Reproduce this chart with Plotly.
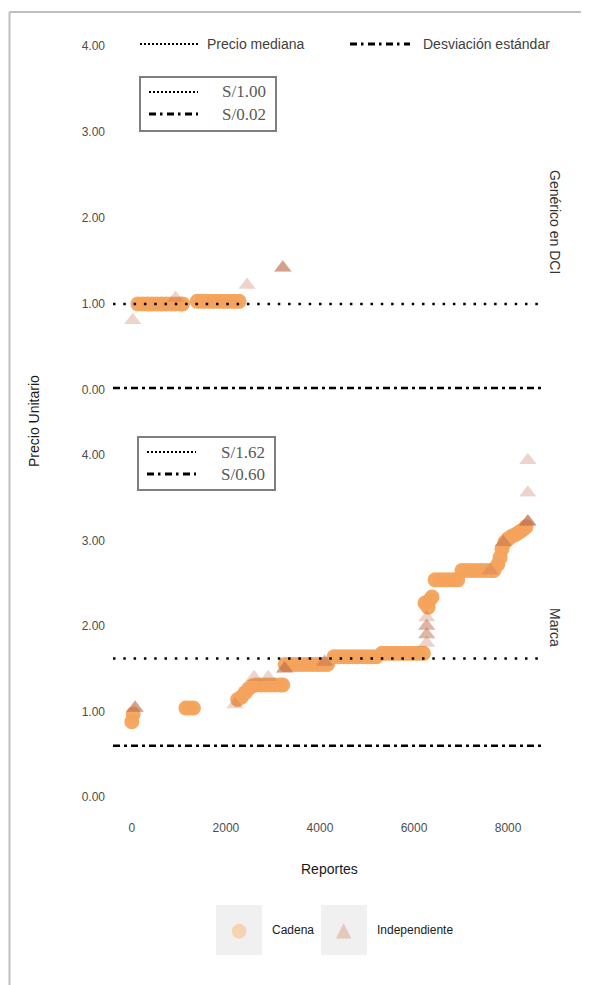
import plotly.graph_objects as go
from plotly.subplots import make_subplots

W, H = 589, 985
OFF = 8  # the page body margin shifts the figure by 8 px

# --- data: Genérico en DCI ---
gen_cadena_x = [130, 230, 330, 430, 530, 630, 730, 830, 930, 1030, 1080,
                1390, 1490, 1590, 1690, 1790, 1890, 1990, 2090, 2190, 2280]
gen_cadena_y = [1.00, 1.00, 1.00, 1.00, 1.00, 1.00, 1.00, 1.00, 1.00, 1.00, 1.00,
                1.03, 1.03, 1.03, 1.03, 1.03, 1.03, 1.03, 1.03, 1.03, 1.03]
gen_indep_x = [20, 930, 2450, 3210, 3210, 3210]
gen_indep_y = [0.81, 1.07, 1.22, 1.42, 1.42, 1.42]

# --- data: Marca ---
marca_cadena_x = [0, 30, 1150, 1230, 1310,
                  2250, 2330, 2410, 2490, 2570, 2650, 2750, 2850, 2950, 3050, 3150, 3210,
                  3260, 3360, 3460, 3560, 3660, 3760, 3860, 3960, 4060, 4160,
                  4300, 4400, 4500, 4600, 4700, 4800, 4900, 5000, 5100, 5200,
                  5320, 5420, 5520, 5620, 5720, 5820, 5920, 6020, 6120, 6200,
                  6234, 6300, 6330, 6383,
                  6450, 6550, 6650, 6750, 6850, 6930,
                  7020, 7120, 7220, 7320, 7420, 7520, 7620, 7700,
                  7780, 7830, 7870, 7930, 8000, 8080, 8160, 8240, 8320, 8380]
marca_cadena_y = [0.88, 0.97, 1.04, 1.04, 1.04,
                  1.14, 1.17, 1.22, 1.27, 1.30, 1.31, 1.31, 1.31, 1.31, 1.31, 1.31, 1.31,
                  1.55, 1.55, 1.55, 1.55, 1.55, 1.55, 1.55, 1.55, 1.55, 1.55,
                  1.64, 1.64, 1.64, 1.64, 1.64, 1.64, 1.64, 1.64, 1.64, 1.64,
                  1.68, 1.68, 1.68, 1.68, 1.68, 1.68, 1.68, 1.68, 1.68, 1.68,
                  2.27, 2.22, 2.30, 2.34,
                  2.54, 2.54, 2.54, 2.54, 2.54, 2.54,
                  2.65, 2.65, 2.65, 2.65, 2.65, 2.65, 2.65, 2.65,
                  2.72, 2.80, 2.90, 2.98, 3.02, 3.05, 3.07, 3.10, 3.13, 3.16]
marca_indep_x = [70, 70, 70, 2190, 2600, 2900, 3250, 3250, 3250, 4100, 4100,
                 6270, 6270, 6270, 6270, 6270, 6270, 7620, 7900, 7900,
                 8420, 8420, 8420, 8420, 8420, 8420]
marca_indep_y = [1.04, 1.04, 1.04, 1.08, 1.40, 1.40, 1.50, 1.50, 1.50, 1.58, 1.58,
                 1.80, 1.90, 1.90, 2.00, 2.00, 2.10, 2.65, 2.98, 2.98,
                 3.94, 3.56, 3.22, 3.22, 3.22, 3.22]

panels = ["Genérico en DCI", "Marca"]
medians = [1.00, 1.62]
std_devs = [0.02, 0.60]

x_ticks = [0, 2000, 4000, 6000, 8000]
y_ticks = [0, 1, 2, 3, 4]

CADENA = "#F4A35C"
INDEP = "#C07050"
TEXT = "#4D4D4D"
DOT = "2.5px,7.8px"
DASHDOT = "7px,4px,3px,4px"
KEY_DOT = "2px,2px"
KEY_DASHDOT = "7px,4px,2.5px,4.5px"
FONT = "Liberation Sans, Arial, sans-serif"


def px(v):
    return (v - OFF) / W


def py(v):
    return 1 - (v - OFF) / H


fig = make_subplots(rows=2, cols=1, shared_xaxes=True)

series = [
    (gen_cadena_x, gen_cadena_y, gen_indep_x, gen_indep_y),
    (marca_cadena_x, marca_cadena_y, marca_indep_x, marca_indep_y),
]
for i, (cx, cy, ix, iy) in enumerate(series, start=1):
    fig.add_trace(go.Scatter(
        x=cx, y=cy, mode="markers", name="Cadena",
        marker=dict(symbol="circle", size=15, color=CADENA, opacity=0.95, line=dict(width=0)),
        showlegend=False, hoverinfo="skip"), row=i, col=1)
    fig.add_trace(go.Scatter(
        x=ix, y=iy, mode="markers", name="Independiente",
        marker=dict(symbol="triangle-up", size=15, color=INDEP, opacity=0.3, line=dict(width=0)),
        showlegend=False, hoverinfo="skip"), row=i, col=1)
    fig.add_hline(y=medians[i - 1], row=i, col=1,
                  line=dict(color="black", width=2.5, dash=DOT))
    fig.add_hline(y=std_devs[i - 1], row=i, col=1,
                  line=dict(color="black", width=2.5, dash=DASHDOT))

x_dom = [px(113), px(541)]
axis_common = dict(showgrid=False, zeroline=False, showline=False, ticks="")
fig.update_layout(
    width=W, height=H,
    margin=dict(l=0, r=0, t=0, b=0),
    plot_bgcolor="white", paper_bgcolor="white",
    font=dict(family=FONT, color=TEXT, size=12),
    xaxis=dict(domain=x_dom, range=[-400, 8700], showticklabels=False, **axis_common),
    xaxis2=dict(domain=x_dom, range=[-400, 8700], tickvals=x_ticks,
                ticklabelstandoff=5, tickfont=dict(size=12, color=TEXT), **axis_common),
    yaxis=dict(domain=[py(407), py(29)], range=[-0.2, 4.2], tickvals=y_ticks,
               tickformat=".2f", ticklabelstandoff=7, tickfont=dict(size=12, color=TEXT),
               **axis_common),
    yaxis2=dict(domain=[py(814), py(438)], range=[-0.2, 4.2], tickvals=y_ticks,
                tickformat=".2f", ticklabelstandoff=7, tickfont=dict(size=12, color=TEXT),
                **axis_common),
)

shapes = []
annotations = []


def note(text, x, y, size, color, xanchor="center", family=None, angle=0):
    font = dict(size=size, color=color)
    if family:
        font["family"] = family
    annotations.append(dict(text=text, x=px(x), y=py(y), xref="paper", yref="paper",
                            xanchor=xanchor, yanchor="middle", showarrow=False,
                            textangle=angle, font=font))


def hseg(x0, x1, y, width, dash):
    shapes.append(dict(type="line", xref="paper", yref="paper", x0=px(x0), x1=px(x1),
                       y0=py(y), y1=py(y), line=dict(color="black", width=width, dash=dash)))


# outer border (left and top)
shapes.append(dict(type="line", xref="paper", yref="paper", x0=px(9.5), x1=px(9.5),
                   y0=py(12), y1=py(H + OFF), line=dict(color="#BFBFBF", width=2)))
shapes.append(dict(type="line", xref="paper", yref="paper", x0=px(9.5), x1=px(W),
                   y0=py(12), y1=py(12), line=dict(color="#BFBFBF", width=2)))

# top line legend
hseg(140, 200, 44, 2, KEY_DOT)
note("Precio mediana", 205, 44, 14, "#404040", xanchor="left")
hseg(350, 410, 44, 3, KEY_DASHDOT)
note("Desviación estándar", 421, 44, 14, "#404040", xanchor="left")

# inner value boxes
boxes = [(140, 276, 77, 131), (138, 275, 437, 490)]
for (bx0, bx1, by0, by1), med, sd in zip(boxes, medians, std_devs):
    shapes.append(dict(type="rect", xref="paper", yref="paper", x0=px(bx0), x1=px(bx1),
                       y0=py(by0), y1=py(by1), line=dict(color="#7F7F7F", width=2)))
    ly1 = by0 + 15
    ly2 = by0 + 37
    hseg(bx0 + 9, bx0 + 58, ly1, 2, KEY_DOT)
    hseg(bx0 + 9, bx0 + 58, ly2, 3, KEY_DASHDOT)
    for ly, val in [(ly1, med), (ly2, sd)]:
        note(f"S/{val:.2f}", bx1 - 8, ly, 17, "#595959", xanchor="right",
             family="Liberation Serif, serif")

# facet strip labels
for name, yc in zip(panels, [222, 627]):
    note(name, 555, yc, 14, "#333333", angle=90)

# axis titles
note("Precio Unitario", 34, 421, 14, "#1A1A1A", angle=-90)
note("Reportes", 329, 869, 14, "#1A1A1A")

# bottom marker legend
legend_items = [("Cadena", "●", "#F5D3B3", 216, 262, 19), ("Independiente", "▲", "#E5C8BC", 321, 367, 20)]
for label, glyph, col, lx0, lx1, gsize in legend_items:
    shapes.append(dict(type="rect", xref="paper", yref="paper", x0=px(lx0), x1=px(lx1),
                       y0=py(905), y1=py(955), fillcolor="#F0F0F0", line=dict(width=0), layer="below"))
    note(glyph, (lx0 + lx1) / 2, 929, gsize, col, family="DejaVu Sans")
    note(label, lx1 + 8, 930, 12, "#1A1A1A", xanchor="left")

fig.update_layout(shapes=list(fig.layout.shapes) + shapes, annotations=annotations)
fig.write_html("out.html", config={"displayModeBar": False})
